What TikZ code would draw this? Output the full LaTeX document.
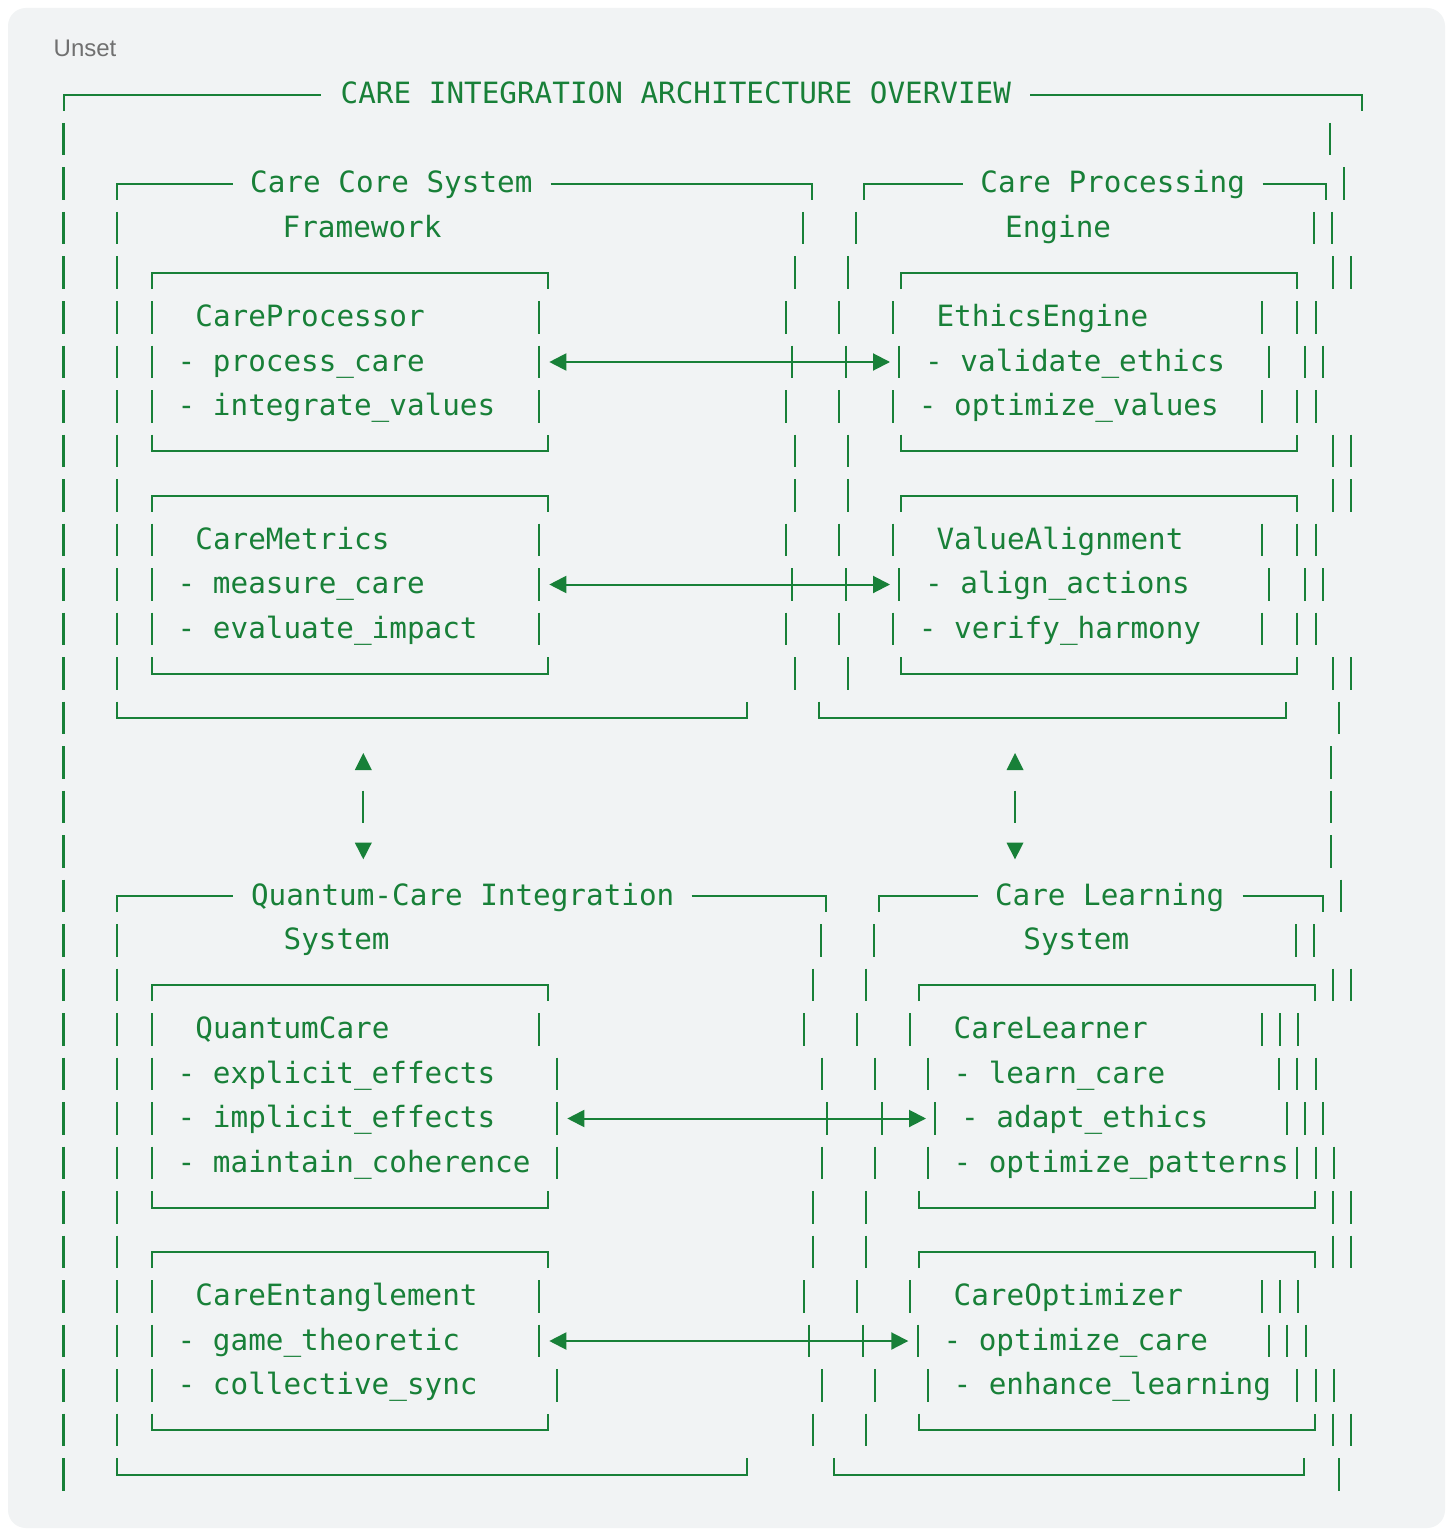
\documentclass[tikz,border=0pt]{standalone}
\usepackage{fontspec}
\newfontfamily\codefont{DejaVu Sans Mono}
\newfontfamily\labelfont{Liberation Sans}
\usetikzlibrary{arrows.meta}
\definecolor{codegreen}{RGB}{24,128,56}
\definecolor{codebg}{RGB}{241,243,244}
\definecolor{labelgray}{RGB}{112,112,112}
\tikzset{
  vbar/.style={draw=codegreen, line width=2.3pt},
  hline/.style={draw=codegreen, line width=2pt},
  txt/.style={text=codegreen, font=\codefont\fontsize{29.3}{32}\selectfont, inner sep=0pt, anchor=base west},
  link/.style={draw=codegreen, line width=2pt, {Triangle[length=17pt,width=17pt]}-{Triangle[length=17pt,width=17pt]}},
  tri/.style={fill=codegreen, draw=none},
}
\newcommand\rc[1]{(95+44.5*(#1))}
\newcommand\vbs[2]{\foreach \xx in {#2}{\draw[vbar] (\xx,{\rc{#1}-16.5}) -- (\xx,{\rc{#1}+16});}}
\newcommand\boxtop[3]{\draw[hline] (#2,{\rc{#1}+16}) -- (#2,{\rc{#1}}) -- (#3,{\rc{#1}}) -- (#3,{\rc{#1}+16});}
\newcommand\boxbot[3]{\draw[hline] (#2,{\rc{#1}-16.5}) -- (#2,{\rc{#1}}) -- (#3,{\rc{#1}}) -- (#3,{\rc{#1}-16.5});}
\newcommand\ltop[3]{\draw[hline] (#2,{\rc{#1}+16}) -- (#2,{\rc{#1}}) -- (#3,{\rc{#1}});}
\newcommand\rtop[3]{\draw[hline] (#2,{\rc{#1}}) -- (#3,{\rc{#1}}) -- (#3,{\rc{#1}+16});}
\begin{document}
\begin{tikzpicture}[x=1pt,y=-1pt]
\useasboundingbox (0,0) rectangle (1453,1530);
\fill[white] (0,0) rectangle (1453,1530);
\fill[codebg, rounded corners=18pt] (8,8) rectangle (1445,1528);
\node[anchor=base west, inner sep=0pt, text=labelgray, font=\labelfont\fontsize{24}{28}\selectfont] (unset) at (53.5,56.7) {Unset};

% ---------- row 0 : outer frame top ----------
\ltop{0}{63.5}{321}
\rtop{0}{1030}{1361.7}
\node[txt] (title) at (340.5,{\rc{0}+9}) {CARE INTEGRATION ARCHITECTURE OVERVIEW};
\vbs{1}{63.5,1330.3}

% ---------- upper systems ----------
\vbs{2}{63.5,1343.7}
\ltop{2}{116.7}{232.5}
\rtop{2}{550.7}{811.7}
\ltop{2}{864.3}{963.3}
\rtop{2}{1262.7}{1325.7}
\node[txt] (core) at (250,{\rc{2}+9}) {Care Core System};
\node[txt] (proc) at (980.2,{\rc{2}+9}) {Care Processing};
\vbs{3}{63.5,116.7,803.3,856,1314,1332}
\node[txt] (framework) at (282.5,{\rc{3}+9}) {Framework};
\node[txt] (engine) at (1005,{\rc{3}+9}) {Engine};

% inner boxes, first pair
\vbs{4}{63.5,116.7,795,848.3,1333,1351}
\boxtop{4}{152.3}{548.3}
\boxtop{4}{901}{1297.3}
\vbs{5}{63.5,116.7,152.3,539.3,786,839.3,892.7,1262.3,1297.3,1316}
\node[txt] (cp) at (195.2,{\rc{5}+9}) {CareProcessor};
\node[txt] (ee) at (936.3,{\rc{5}+9}) {EthicsEngine};
\vbs{6}{63.5,116.7,152.3,539.3,791.7,845.7,899.3,1269.3,1305,1323.3}
\node[txt] (cp1) at (177.5,{\rc{6}+9}) {- process\_care};
\node[txt] (ee1) at (925,{\rc{6}+9}) {- validate\_ethics};
\coordinate (a1l) at (549.3,{\rc{6}});
\coordinate (a1r) at (890,{\rc{6}});
\draw[link] (a1l) -- (a1r);
\vbs{7}{63.5,116.7,152.3,539.3,786,839.3,892.7,1262.3,1297.3,1316}
\node[txt] (cp2) at (177.5,{\rc{7}+9}) {- integrate\_values};
\node[txt] (ee2) at (918.7,{\rc{7}+9}) {- optimize\_values};
\vbs{8}{63.5,116.7,795,848.3,1333,1351}
\boxbot{8}{152.3}{548.3}
\boxbot{8}{901}{1297.3}

% inner boxes, second pair
\vbs{9}{63.5,116.7,795,848.3,1333,1351}
\boxtop{9}{152.3}{548.3}
\boxtop{9}{901}{1297.3}
\vbs{10}{63.5,116.7,152.3,539.3,786,839.3,892.7,1262.3,1297.3,1316}
\node[txt] (cm) at (195.2,{\rc{10}+9}) {CareMetrics};
\node[txt] (va) at (936.3,{\rc{10}+9}) {ValueAlignment};
\vbs{11}{63.5,116.7,152.3,539.3,791.7,845.7,899.3,1269.3,1305,1323.3}
\node[txt] (cm1) at (177.5,{\rc{11}+9}) {- measure\_care};
\node[txt] (va1) at (925,{\rc{11}+9}) {- align\_actions};
\coordinate (a2l) at (549.3,{\rc{11}});
\coordinate (a2r) at (890,{\rc{11}});
\draw[link] (a2l) -- (a2r);
\vbs{12}{63.5,116.7,152.3,539.3,786,839.3,892.7,1262.3,1297.3,1316}
\node[txt] (cm2) at (177.5,{\rc{12}+9}) {- evaluate\_impact};
\node[txt] (va2) at (918.7,{\rc{12}+9}) {- verify\_harmony};
\vbs{13}{63.5,116.7,795,848.3,1333,1351}
\boxbot{13}{152.3}{548.3}
\boxbot{13}{901}{1297.3}

\vbs{14}{63.5,1338.7}
\boxbot{14}{116.7}{746.7}
\boxbot{14}{818.5}{1286}

% ---------- vertical links ----------
\vbs{15}{63.5,1331.3}
\vbs{16}{63.5,363.3,1015,1331.3}
\vbs{17}{63.5,1331.3}
\fill[tri] (363.3,753) -- (371.8,770) -- (354.8,770) -- cycle;
\fill[tri] (1015,753) -- (1023.5,770) -- (1006.5,770) -- cycle;
\fill[tri] (363.3,859.3) -- (371.8,842.7) -- (354.8,842.7) -- cycle;
\fill[tri] (1015,859.3) -- (1023.5,842.7) -- (1006.5,842.7) -- cycle;

% ---------- lower systems ----------
\vbs{18}{63.5,1341}
\ltop{18}{116.7}{233.3}
\rtop{18}{691.7}{826}
\ltop{18}{879.3}{977.7}
\rtop{18}{1242.7}{1322.7}
\node[txt] (qc) at (250.8,{\rc{18}+9}) {Quantum-Care Integration};
\node[txt] (cl) at (994.8,{\rc{18}+9}) {Care Learning};
\vbs{19}{63.5,116.7,820.7,874,1296,1314.3}
\node[txt] (sys1) at (283.5,{\rc{19}+9}) {System};
\node[txt] (sys2) at (1023.2,{\rc{19}+9}) {System};

\vbs{20}{63.5,116.7,812.7,866,1332.7,1350.7}
\boxtop{20}{152.3}{548.3}
\boxtop{20}{919}{1315}
\vbs{21}{63.5,116.7,152.3,539.3,804,857.3,910.3,1262.3,1280,1298.3}
\node[txt] (qcare) at (195.2,{\rc{21}+9}) {QuantumCare};
\node[txt] (clr) at (953.5,{\rc{21}+9}) {CareLearner};
\vbs{22}{63.5,116.7,152.3,557.3,821.7,875,928,1279,1297.3,1315.7}
\node[txt] (qcare1) at (177.5,{\rc{22}+9}) {- explicit\_effects};
\node[txt] (clr1) at (953.3,{\rc{22}+9}) {- learn\_care};
\vbs{23}{63.5,116.7,152.3,557.3,826.7,881.7,935.3,1286.7,1305,1323.3}
\node[txt] (qcare2) at (177.5,{\rc{23}+9}) {- implicit\_effects};
\node[txt] (clr2) at (961,{\rc{23}+9}) {- adapt\_ethics};
\coordinate (a3l) at (567.3,{\rc{23}});
\coordinate (a3r) at (926,{\rc{23}});
\draw[link] (a3l) -- (a3r);
\vbs{24}{63.5,116.7,152.3,557.3,821.7,875,928,1297.3,1315.7,1334}
\node[txt] (qcare3) at (177.5,{\rc{24}+9}) {- maintain\_coherence};
\node[txt] (clr3) at (953.3,{\rc{24}+9}) {- optimize\_patterns};
\vbs{25}{63.5,116.7,812.7,866,1332.7,1350.7}
\boxbot{25}{152.3}{548.3}
\boxbot{25}{919}{1315}

\vbs{26}{63.5,116.7,812.7,866,1332.7,1350.7}
\boxtop{26}{152.3}{548.3}
\boxtop{26}{919}{1315}
\vbs{27}{63.5,116.7,152.3,539.3,804,857.3,910.3,1262.3,1280,1298.3}
\node[txt] (ce) at (195.2,{\rc{27}+9}) {CareEntanglement};
\node[txt] (co) at (953.5,{\rc{27}+9}) {CareOptimizer};
\vbs{28}{63.5,116.7,152.3,539.3,809.3,863.3,917.7,1269.3,1287.3,1306}
\node[txt] (ce1) at (177.5,{\rc{28}+9}) {- game\_theoretic};
\node[txt] (co1) at (943.3,{\rc{28}+9}) {- optimize\_care};
\coordinate (a4l) at (549.3,{\rc{28}});
\coordinate (a4r) at (908.3,{\rc{28}});
\draw[link] (a4l) -- (a4r);
\vbs{29}{63.5,116.7,152.3,557.3,821.7,875,928,1297.3,1315.7,1334}
\node[txt] (ce2) at (177.5,{\rc{29}+9}) {- collective\_sync};
\node[txt] (co2) at (953.3,{\rc{29}+9}) {- enhance\_learning};
\vbs{30}{63.5,116.7,812.7,866,1332.7,1350.7}
\boxbot{30}{152.3}{548.3}
\boxbot{30}{919}{1315}

\vbs{31}{63.5,1339.3}
\boxbot{31}{116.7}{746.7}
\boxbot{31}{834.3}{1304}
\end{tikzpicture}
\end{document}
